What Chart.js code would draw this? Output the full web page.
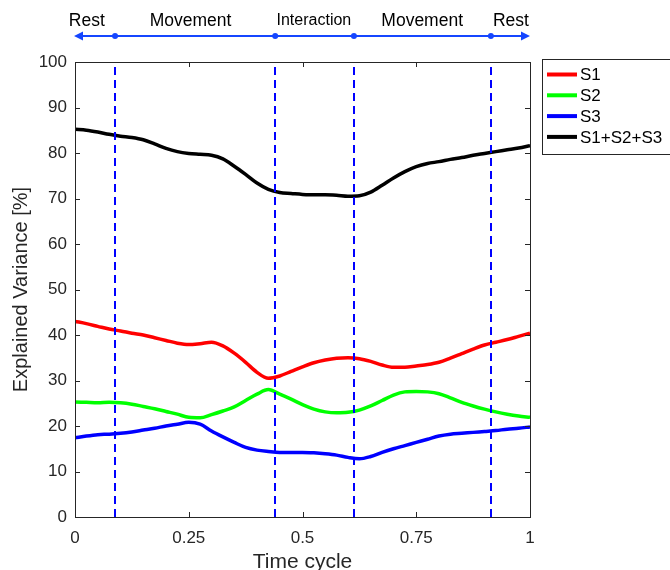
<!DOCTYPE html>
<html>
<head>
<meta charset="utf-8">
<script src="https://cdn.jsdelivr.net/npm/chart.js@4.4.1/dist/chart.umd.min.js"></script>
<style>
  html, body { margin: 0; padding: 0; background: #fff; }
  #wrap { width: 670px; height: 570px; }
</style>
</head>
<body>
<div id="wrap"><canvas id="varChart" width="670" height="570"></canvas></div>
<script>
// time samples along the cycle
const times = [0, 0.025, 0.05, 0.075, 0.1, 0.125, 0.15, 0.175, 0.2, 0.225, 0.25, 0.275, 0.3, 0.325, 0.35, 0.375, 0.4, 0.425, 0.45, 0.475, 0.5,
  0.525, 0.55, 0.575, 0.6, 0.625, 0.65, 0.675, 0.7, 0.725, 0.75, 0.775, 0.8, 0.825, 0.85, 0.875, 0.9, 0.925, 0.95, 0.975, 1];

const s1 = [43.0, 42.5, 41.9, 41.3, 40.9, 40.4, 40.0, 39.4, 38.8, 38.2, 37.9, 38.1, 38.4, 37.6, 36.0, 34.0, 31.8, 30.5, 31.0, 32.0, 33.0,
  33.9, 34.5, 34.9, 35.0, 34.8, 34.2, 33.4, 32.9, 32.9, 33.2, 33.5, 34.0, 34.9, 35.9, 36.9, 37.8, 38.4, 39.0, 39.7, 40.4];
const s2 = [25.3, 25.2, 25.1, 25.2, 25.1, 24.8, 24.3, 23.8, 23.2, 22.6, 21.9, 21.8, 22.5, 23.3, 24.2, 25.6, 27.0, 28.0, 27.0, 25.9, 24.7,
  23.7, 23.1, 22.9, 23.0, 23.5, 24.4, 25.6, 26.8, 27.5, 27.6, 27.5, 27.1, 26.2, 25.2, 24.4, 23.7, 23.1, 22.6, 22.2, 21.9];
const s3 = [17.4, 17.8, 18.1, 18.2, 18.4, 18.7, 19.1, 19.5, 20.0, 20.4, 20.8, 20.4, 18.9, 17.6, 16.4, 15.3, 14.7, 14.4, 14.2, 14.2, 14.2,
  14.1, 13.9, 13.6, 13.1, 12.8, 13.3, 14.2, 15.0, 15.7, 16.4, 17.1, 17.8, 18.2, 18.4, 18.6, 18.8, 19.0, 19.3, 19.5, 19.8];
const sAll = [85.2, 85.0, 84.6, 84.1, 83.7, 83.4, 82.9, 82.0, 81.0, 80.3, 79.9, 79.7, 79.5, 78.7, 77.1, 75.3, 73.4, 72.0, 71.3, 71.1, 70.9,
  70.8, 70.8, 70.7, 70.5, 70.6, 71.4, 72.9, 74.5, 75.9, 77.0, 77.7, 78.1, 78.6, 79.0, 79.5, 79.9, 80.3, 80.7, 81.1, 81.6];

const seriesNames = ['S1', 'S2', 'S3', 'S1+S2+S3'];
const seriesColors = ['#ff0000', '#00ff00', '#0000ff', '#000000'];

// phase boundaries (dashed lines) and phase labels on top
const phaseBounds = [0.088, 0.44, 0.613, 0.914];
const phaseNames = ['Rest', 'Movement', 'Interaction', 'Movement', 'Rest'];
const phaseLabelAt = [0.026, 0.254, 0.525, 0.763, 0.958];

const xTicks = [0, 0.25, 0.5, 0.75, 1];
const xTickLabels = ['0', '0.25', '0.5', '0.75', '1'];
const yTicks = [0, 10, 20, 30, 40, 50, 60, 70, 80, 90, 100];

const FONT = '"Liberation Sans", Arial, Helvetica, sans-serif';
const AXIS = '#262626';

function toPoints(vals) {
  return vals.map((v, i) => ({ x: times[i], y: v }));
}

const phasePlugin = {
  id: 'phases',
  afterDatasetsDraw(chart) {
    const ctx = chart.ctx;
    const xs = chart.scales.x;
    const area = chart.chartArea;
    ctx.save();
    ctx.strokeStyle = '#0000ff';
    ctx.lineWidth = 2;
    ctx.setLineDash([8, 5]);
    phaseBounds.forEach(b => {
      const px = Math.round(xs.getPixelForValue(b));
      ctx.beginPath();
      ctx.moveTo(px, area.bottom);
      ctx.lineTo(px, area.top);
      ctx.stroke();
    });
    ctx.restore();
  },
  afterDraw(chart) {
    const ctx = chart.ctx;
    const xs = chart.scales.x;
    const ys = chart.scales.y;
    const area = chart.chartArea;
    ctx.save();

    // axes box with inward ticks
    ctx.strokeStyle = AXIS;
    ctx.lineWidth = 1;
    ctx.strokeRect(area.left + 0.5, area.top + 0.5, area.right - area.left, area.bottom - area.top);
    ctx.beginPath();
    yTicks.forEach(t => {
      const py = Math.round(ys.getPixelForValue(t)) + 0.5;
      ctx.moveTo(area.left, py); ctx.lineTo(area.left + 5, py);
      ctx.moveTo(area.right, py); ctx.lineTo(area.right - 5, py);
    });
    xTicks.forEach(t => {
      const px = Math.round(xs.getPixelForValue(t)) + 0.5;
      ctx.moveTo(px, area.bottom); ctx.lineTo(px, area.bottom - 5);
      ctx.moveTo(px, area.top); ctx.lineTo(px, area.top + 5);
    });
    ctx.stroke();

    // top timeline arrow
    const yA = 36;
    const x0 = xs.getPixelForValue(0) - 1;
    const x1 = xs.getPixelForValue(1);
    ctx.strokeStyle = '#1546ff';
    ctx.fillStyle = '#1546ff';
    ctx.lineWidth = 2;
    ctx.beginPath();
    ctx.moveTo(x0 + 6, yA); ctx.lineTo(x1 - 6, yA);
    ctx.stroke();
    ctx.beginPath();
    ctx.moveTo(x0, yA); ctx.lineTo(x0 + 9, yA - 4.5); ctx.lineTo(x0 + 9, yA + 4.5); ctx.closePath();
    ctx.moveTo(x1, yA); ctx.lineTo(x1 - 9, yA - 4.5); ctx.lineTo(x1 - 9, yA + 4.5); ctx.closePath();
    ctx.fill();
    phaseBounds.forEach(b => {
      ctx.beginPath();
      ctx.arc(xs.getPixelForValue(b), yA, 3, 0, Math.PI * 2);
      ctx.fill();
    });

    // phase labels
    ctx.fillStyle = '#000';
    ctx.textAlign = 'center';
    ctx.textBaseline = 'middle';
    phaseNames.forEach((name, i) => {
      ctx.font = (name === 'Interaction' ? '16px ' : '17.5px ') + FONT;
      ctx.fillText(name, xs.getPixelForValue(phaseLabelAt[i]), 21);
    });

    // legend box
    const lx = 542, ly = 59, lh = 95;
    ctx.fillStyle = '#fff';
    ctx.fillRect(lx, ly, 670 - lx + 10, lh);
    ctx.strokeStyle = AXIS;
    ctx.lineWidth = 1;
    ctx.strokeRect(lx + 0.5, ly + 0.5, 670 - lx + 10, lh);
    ctx.font = '17px ' + FONT;
    ctx.textAlign = 'left';
    chart.data.datasets.forEach((ds, i) => {
      const yy = 74.5 + i * 20.8;
      ctx.strokeStyle = ds.borderColor;
      ctx.lineWidth = 4;
      ctx.beginPath();
      ctx.moveTo(547, yy); ctx.lineTo(577, yy);
      ctx.stroke();
      ctx.fillStyle = '#000';
      ctx.fillText(ds.label, 580, yy + 1);
    });
    ctx.restore();
  }
};

const ctx = document.getElementById('varChart').getContext('2d');
const varChart = new Chart(ctx, {
  type: 'line',
  data: {
    datasets: [s1, s2, s3, sAll].map((vals, i) => ({
      label: seriesNames[i],
      data: toPoints(vals),
      borderColor: seriesColors[i],
      backgroundColor: seriesColors[i],
      borderWidth: 3.5,
      pointRadius: 0,
      fill: false,
      cubicInterpolationMode: 'monotone',
    }))
  },
  options: {
    responsive: false,
    animation: false,
    events: [],
    layout: { padding: { top: 62, right: 140, left: 0, bottom: 0 } },
    plugins: {
      legend: { display: false },
      tooltip: { enabled: false }
    },
    scales: {
      x: {
        type: 'linear',
        min: 0,
        max: 1,
        afterFit(scale) { scale.height = 53; },
        afterBuildTicks(scale) { scale.ticks = xTicks.map(v => ({ value: v })); },
        grid: { display: false, drawTicks: false },
        border: { display: false },
        ticks: {
          color: AXIS,
          padding: 11,
          maxRotation: 0,
          autoSkip: false,
          font: { family: FONT, size: 17 },
          callback: (v) => xTickLabels[xTicks.indexOf(v)] ?? String(v)
        },
        title: {
          display: true,
          text: 'Time cycle',
          color: AXIS,
          font: { family: FONT, size: 21 },
          padding: { top: 0, bottom: -5 }
        }
      },
      y: {
        min: 0,
        max: 100,
        afterFit(scale) { scale.width = 75; },
        afterBuildTicks(scale) { scale.ticks = yTicks.map(v => ({ value: v })); },
        grid: { display: false, drawTicks: false },
        border: { display: false },
        ticks: {
          color: AXIS,
          padding: 8,
          autoSkip: false,
          font: { family: FONT, size: 17 }
        },
        title: {
          display: true,
          text: 'Explained Variance [%]',
          color: AXIS,
          font: { family: FONT, size: 20 },
          padding: { top: 9, bottom: 0 }
        }
      }
    }
  },
  plugins: [phasePlugin]
});
</script>
</body>
</html>
